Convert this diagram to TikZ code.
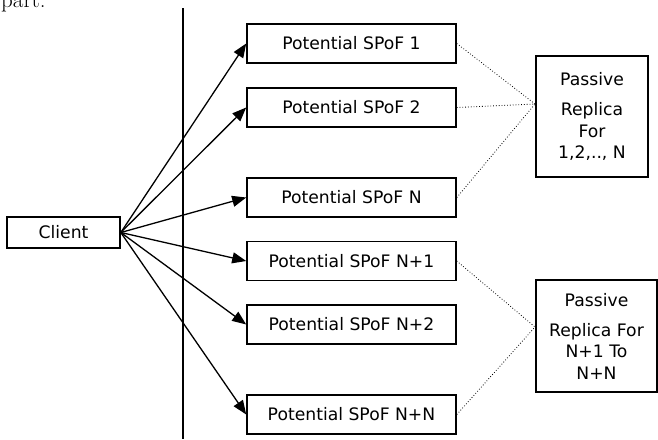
\documentclass[tikz,border=0pt]{standalone}
\usepackage{fontspec}
\newfontfamily\verd{DejaVu Sans}
\usetikzlibrary{arrows.meta}

\begin{document}
\begin{tikzpicture}[x=1pt,y=-1pt,
  box/.style={draw,line width=1.6pt,inner sep=0pt,font=\verd\fontsize{17.2}{21.5}\selectfont},
  spof/.style={box,minimum width=209pt,minimum height=39pt}]
\useasboundingbox (0,0) rectangle (658,439);
\node[anchor=base west,inner sep=0pt,font=\fontsize{23}{26}\selectfont] (part) at (1,7.5) {part.};
\node[box,minimum width=113pt,minimum height=31pt] (c) at (63.5,232.5) {Client};
\node[spof] (s1) at (351.5,43.5) {Potential SPoF 1};
\node[spof] (s2) at (351.5,107.5) {Potential SPoF 2};
\node[spof] (sn) at (351.5,197.5) {Potential SPoF N};
\node[spof] (sn1) at (351.5,261) {Potential SPoF N+1};
\node[spof] (sn2) at (351.5,324.5) {Potential SPoF N+2};
\node[spof] (snn) at (351.5,414.5) {Potential SPoF N+N};
\node[box,minimum width=112pt,minimum height=121pt,align=center] (r1) at (592,116.5)
  {Passive\\[8.5pt]Replica\\For\\1,2,.., N};
\node[box,minimum width=121pt,minimum height=112pt,align=center] (r2) at (596.5,336)
  {Passive\\[8.5pt]Replica For\\N+1 To\\N+N};
\coordinate (lt) at (183,8);
\coordinate (lb) at (183,439);
\coordinate (j1) at (535,104);
\coordinate (j2) at (535,327);
\draw[line width=1.4pt] (lt) -- (lb);
\path[-{Triangle[length=14pt,width=11pt]},line width=1.3pt]
(c.east) edge (s1.west)
edge (s2.west)
edge (sn.west)
edge (sn1.west)
edge (sn2.west)
edge (snn.west);
\path[dotted,line width=0.8pt]
(s1.east) edge (j1)
(s2.east) edge (j1)
(sn.east) edge (j1)
(sn1.east) edge (j2)
(snn.east) edge (j2);
\end{tikzpicture}
\end{document}
